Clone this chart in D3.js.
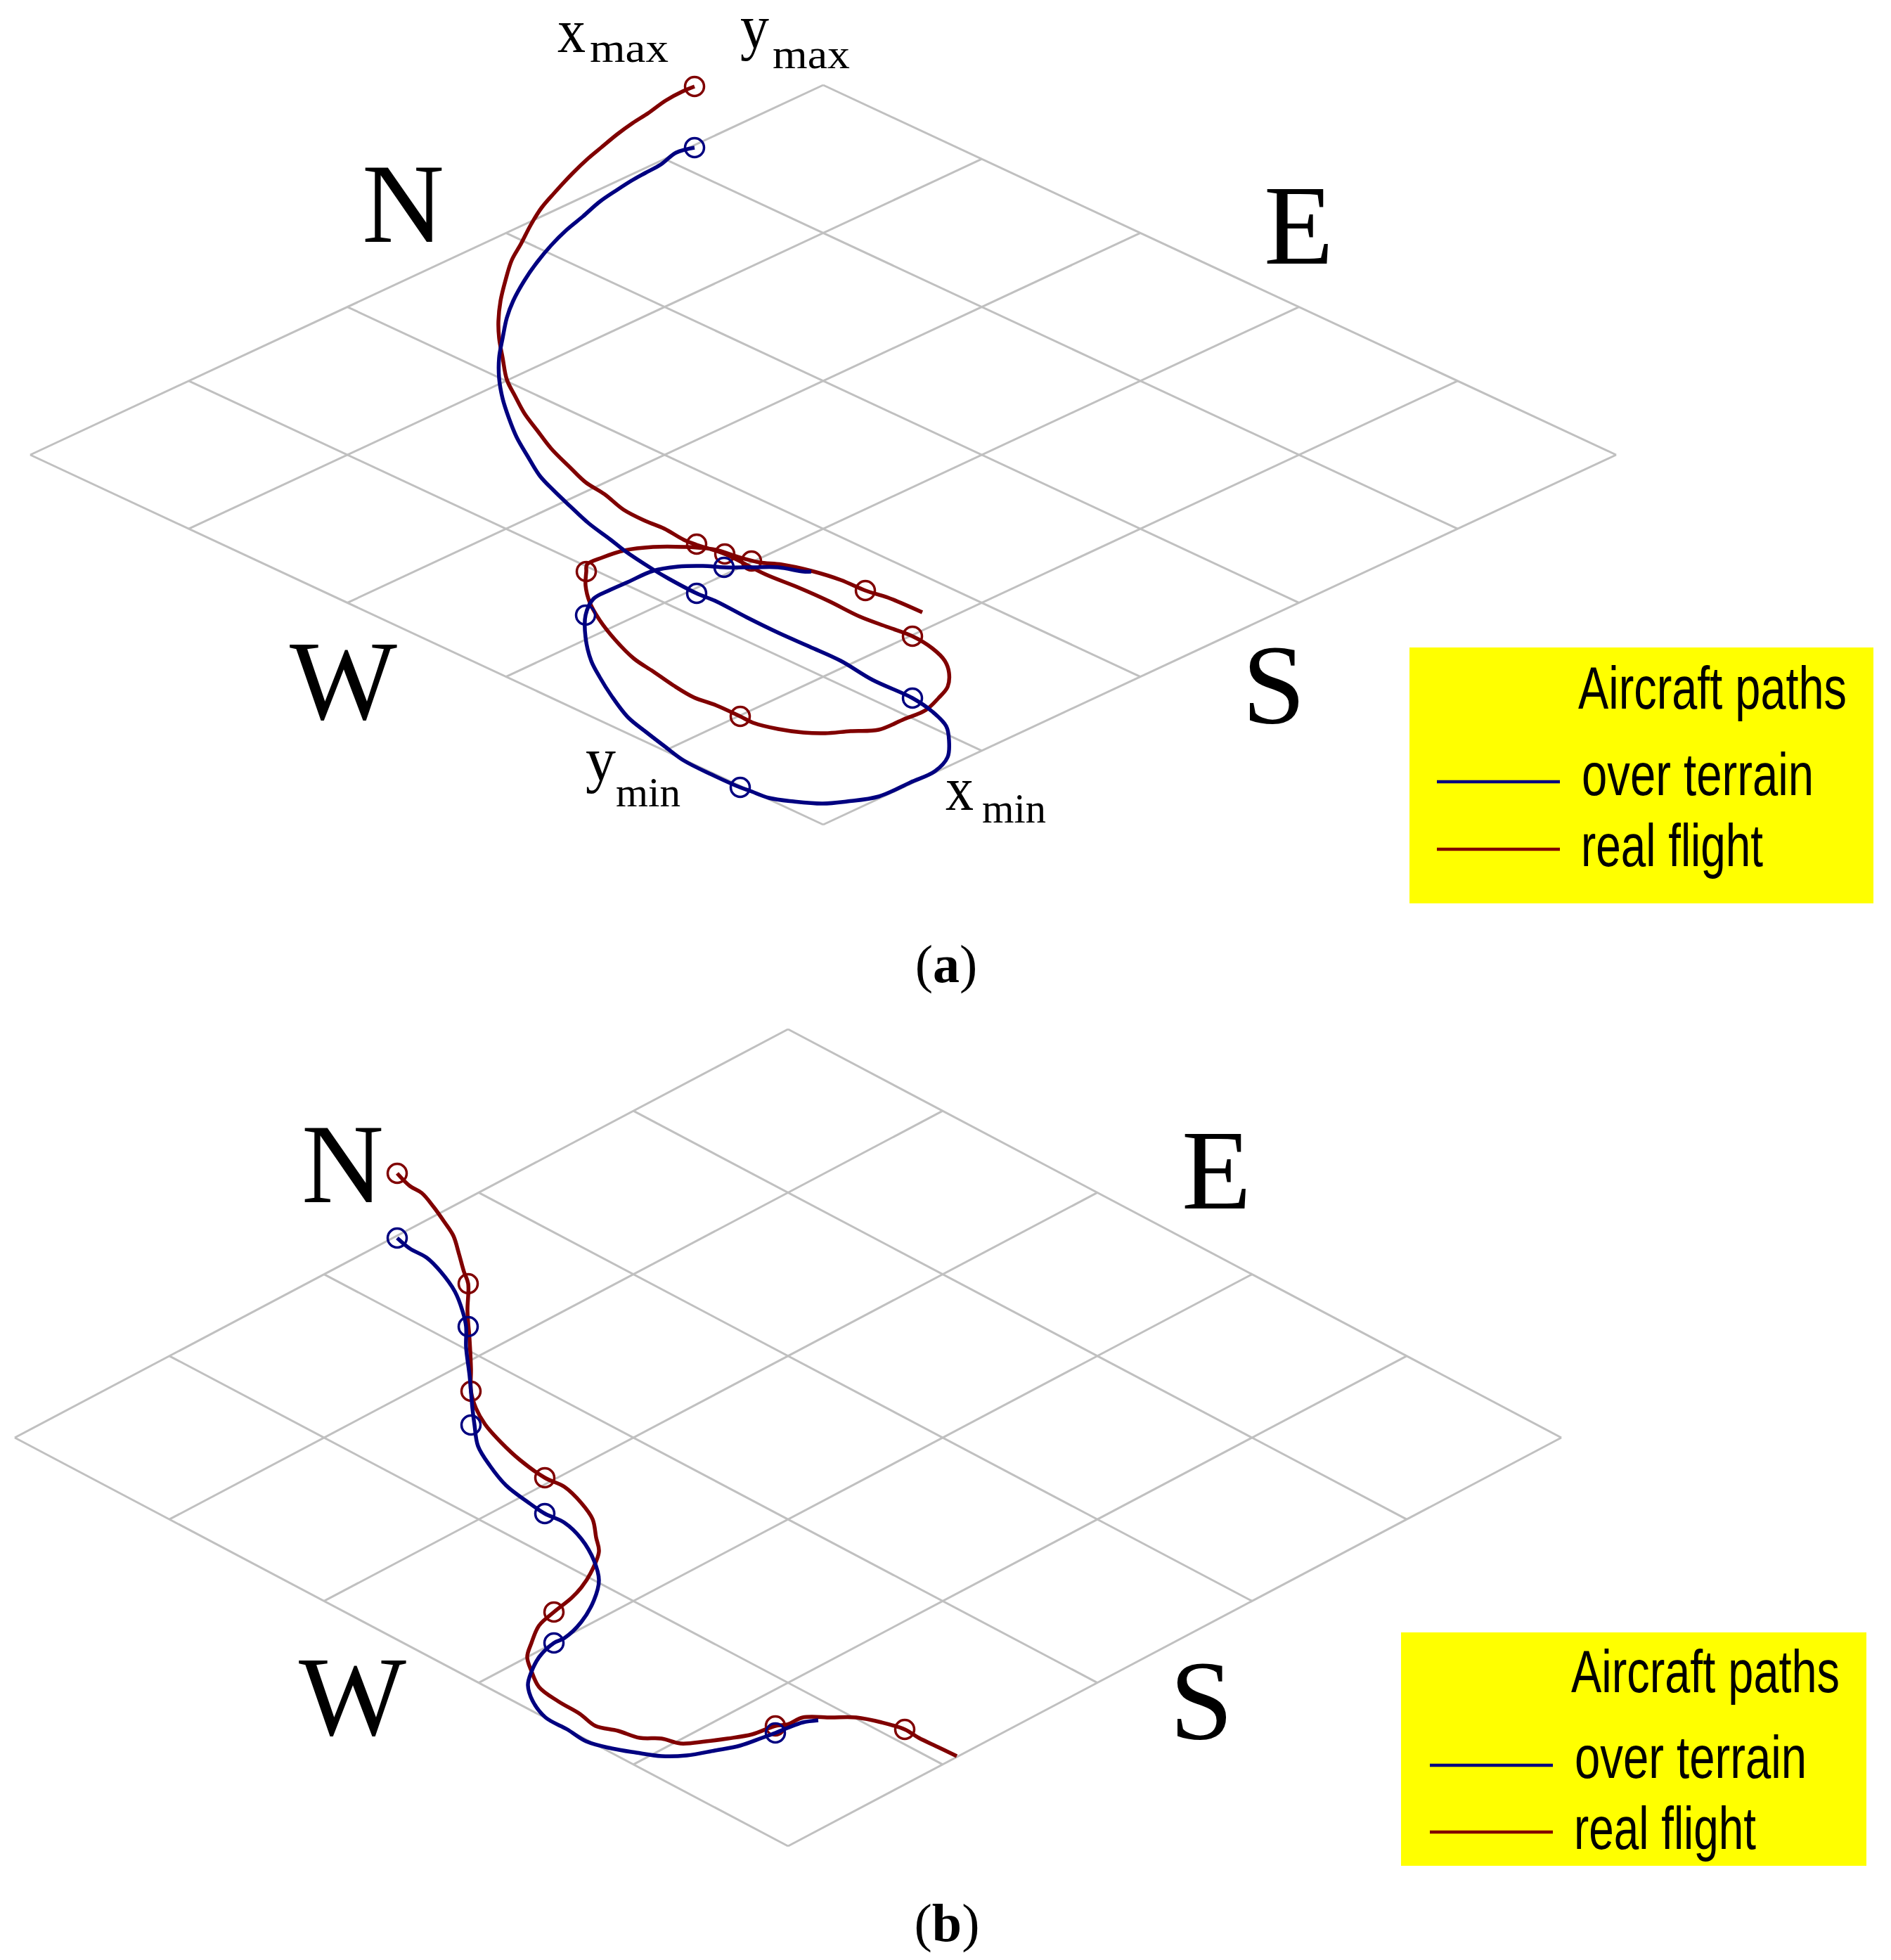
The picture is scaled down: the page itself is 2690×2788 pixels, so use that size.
<!DOCTYPE html>
<html><head><meta charset="utf-8">
<style>html,body{margin:0;padding:0;background:#fff}svg{display:block}</style>
<script src="https://cdn.jsdelivr.net/npm/d3@7/dist/d3.min.js"></script>
</head><body><div id="chart"></div>
<script>
// Flight paths: [east-west offset, north-south offset] from the grid centre.
const redA=[[-183,524],[-200,517],[-224,504],[-249,486],[-271,472],[-293,456],[-316,437],[-334,422],[-356,401],[-383,372],[-401,351],[-416,327],[-430,300],[-443,277],[-452,248],[-459,219],[-462,190],[-461,166],[-456,138],[-450,107],[-438,83],[-425,59],[-407,35],[-387,9],[-360,-18],[-338,-39],[-311,-56],[-284,-78],[-253,-94],[-226,-105],[-198,-121],[-180,-128],[-140,-141],[-82,-170],[-37,-188],[8,-208],[52,-230],[92,-245],[127,-258],[155,-275],[173,-293],[179,-310],[177,-330],[164,-346],[146,-363],[115,-376],[79,-391],[39,-393],[3,-396],[-28,-395],[-64,-390],[-100,-381],[-118,-372],[-153,-356],[-184,-345],[-213,-328],[-242,-308],[-269,-290],[-296,-263],[-318,-235],[-332,-210],[-338,-186],[-337,-166],[-336,-156],[-314,-146],[-283,-136],[-242,-131],[-198,-131],[-153,-135],[-122,-145],[-91,-153],[-59,-156],[-17,-165],[25,-178],[60,-193],[92,-203],[141,-224]];
const blueA=[[-183,437],[-209,430],[-231,413],[-253,401],[-271,391],[-293,377],[-318,360],[-342,339],[-365,320],[-387,298],[-407,274],[-425,248],[-441,219],[-450,195],[-456,166],[-461,138],[-461,109],[-456,80],[-447,52],[-436,25],[-421,-1],[-403,-30],[-383,-51],[-360,-73],[-334,-97],[-302,-121],[-283,-136],[-242,-163],[-220,-176],[-180,-197],[-153,-208],[-109,-231],[-64,-253],[-19,-273],[25,-293],[70,-320],[127,-346],[155,-365],[175,-386],[179,-406],[177,-430],[159,-450],[124,-466],[79,-486],[34,-493],[-1,-496],[-42,-493],[-77,-488],[-104,-478],[-118,-473],[-158,-455],[-198,-435],[-225,-415],[-251,-395],[-278,-373],[-301,-343],[-318,-316],[-330,-293],[-338,-260],[-338,-228],[-327,-205],[-305,-193],[-278,-181],[-242,-165],[-207,-159],[-171,-158],[-141,-160],[-100,-160],[-64,-160],[-28,-166],[-17,-166]];
const redAMarks=[[-183,524],[-180,-127],[-140,-141],[-102,-151],[127,-258],[-118,-372],[-337,-166],[60,-193]];
const blueAMarks=[[-183,437],[-180,-197],[-141,-160],[127,-346],[-118,-473],[-338,-228]];
const redB=[[-556,376],[-538,358],[-521,348],[-504,328],[-489,307],[-476,287],[-468,261],[-461,236],[-455,219],[-456,180],[-453,139],[-451,98],[-451,66],[-444,42],[-431,19],[-408,-7],[-381,-32],[-346,-57],[-318,-70],[-294,-93],[-278,-116],[-273,-142],[-269,-162],[-281,-193],[-294,-213],[-308,-228],[-333,-248],[-354,-267],[-365,-292],[-371,-312],[-365,-332],[-354,-355],[-327,-375],[-296,-393],[-274,-410],[-242,-417],[-211,-427],[-180,-428],[-153,-435],[-117,-432],[-86,-428],[-51,-422],[-18,-410],[-1,-408],[21,-398],[61,-398],[97,-398],[133,-405],[166,-415],[186,-427],[213,-440],[240,-453]];
const blueB=[[-556,284],[-538,269],[-514,256],[-494,236],[-474,208],[-463,180],[-458,158],[-458,129],[-453,88],[-449,42],[-446,18],[-441,-12],[-424,-40],[-401,-68],[-371,-91],[-346,-108],[-318,-121],[-294,-144],[-276,-175],[-269,-203],[-276,-231],[-294,-262],[-318,-285],[-333,-292],[-354,-312],[-365,-333],[-370,-352],[-363,-375],[-345,-398],[-314,-415],[-287,-432],[-251,-442],[-216,-448],[-180,-453],[-144,-452],[-104,-445],[-68,-438],[-37,-427],[-18,-420],[-1,-413],[21,-405],[43,-402]];
const redBMarks=[[-556,376],[-455,219],[-451,66],[-346,-57],[-333,-248],[-18,-410],[166,-415]];
const blueBMarks=[[-556,284],[-455,158],[-451,18],[-346,-108],[-333,-292],[-18,-420]];

const legendTitle="Aircraft paths";
const legendLabels=["over terrain","real flight"];
const seriesColors=["#000080","#800000"];
const gridCells=5;

const W=2690,H=2788;
const svg=d3.select("#chart").append("svg").attr("width",W).attr("height",H).attr("viewBox",[0,0,W,H]);
svg.append("rect").attr("width",W).attr("height",H).attr("fill","#fff");

const panels=[
 {cx:1171,cy:647,hw:1128,hh:526,red:redA,blue:blueA,rm:redAMarks,bm:blueAMarks,
  compass:[["N",515,344],["E",1798,375],["W",412,1023],["S",1767,1028]],
  legend:{x:2005,y:921,w:660,h:364,lx0:2044,lx1:2219,ly:[1112,1208],tx:2245,tw:382,tb:1008,
          lt:[[2250,330,1131],[2249,259,1232]]}},
 {cx:1121,cy:2045,hw:1100,hh:581,red:redB,blue:blueB,rm:redBMarks,bm:blueBMarks,
  compass:[["N",429,1710],["E",1681,1719],["W",425,2468],["S",1664,2473]],
  legend:{x:1993,y:2322,w:662,h:332,lx0:2034,lx1:2209,ly:[2511,2606],tx:2235,tw:382,tb:2407,
          lt:[[2240,330,2529],[2239,259,2630]]}}
];

const serif='"Liberation Serif","Times New Roman",serif', sans='"Liberation Sans",Arial,sans-serif';

panels.forEach(p=>{
  const g=svg.append("g");
  const x=d3.scaleLinear().domain([-p.hw,p.hw]).range([p.cx-p.hw,p.cx+p.hw]);
  const y=d3.scaleLinear().domain([-p.hh,p.hh]).range([p.cy+p.hh,p.cy-p.hh]);
  // grid cell coordinates -> ground plane offsets
  const s=d3.scaleLinear().domain([0,gridCells]).range([0,1]);
  const node=(u,v)=>[x((s(u)-s(v))*p.hw), y((1-s(u)-s(v))*p.hh)];
  const ticks=d3.range(gridCells+1);
  const gridG=g.append("g").attr("stroke","#c0c0c0").attr("stroke-width",3).attr("fill","none");
  ticks.forEach(t=>{
    gridG.append("path").attr("d",d3.line()([node(t,0),node(t,gridCells)]));
    gridG.append("path").attr("d",d3.line()([node(0,t),node(gridCells,t)]));
  });
  const line=d3.line().x(d=>x(d[0])).y(d=>y(d[1])).curve(d3.curveCatmullRom.alpha(0.5));
  [[p.red,p.rm,seriesColors[1]],[p.blue,p.bm,seriesColors[0]]].forEach(([path,marks,c])=>{
    g.append("path").attr("d",line(path)).attr("fill","none").attr("stroke",c).attr("stroke-width",5.5);
    g.append("g").selectAll("circle").data(marks).join("circle")
      .attr("cx",d=>x(d[0])).attr("cy",d=>y(d[1])).attr("r",13.5)
      .attr("fill","none").attr("stroke",c).attr("stroke-width",3.5);
  });
  g.selectAll("text.c").data(p.compass).join("text").attr("class","c")
    .attr("x",d=>d[1]).attr("y",d=>d[2]).text(d=>d[0])
    .attr("font-family",serif).attr("font-size",162).attr("fill","#000");
  const L=p.legend;
  g.append("rect").attr("x",L.x).attr("y",L.y).attr("width",L.w).attr("height",L.h).attr("fill","#ffff00");
  legendLabels.forEach((t,i)=>{
    g.append("line").attr("x1",L.lx0).attr("x2",L.lx1).attr("y1",L.ly[i]).attr("y2",L.ly[i])
      .attr("stroke",seriesColors[i]).attr("stroke-width",4.5);
    g.append("text").attr("x",L.lt[i][0]).attr("y",L.lt[i][2]).text(t)
      .attr("font-family",sans).attr("font-size",86).attr("textLength",L.lt[i][1])
      .attr("lengthAdjust","spacingAndGlyphs");
  });
  g.append("text").attr("x",L.tx).attr("y",L.tb).text(legendTitle)
    .attr("font-family",sans).attr("font-size",86).attr("textLength",L.tw)
    .attr("lengthAdjust","spacingAndGlyphs");
});

// extreme labels of panel (a)
const extremeLabels=[
 {base:"x",sub:"max",bx:793,bw:40,by:74,sx:839,sw:112,sy:88},
 {base:"y",sub:"max",bx:1053,bw:41,by:68,sx:1099,sw:110,sy:97},
 {base:"y",sub:"min",bx:833,bw:43,by:1110,sx:876,sw:92,sy:1147},
 {base:"x",sub:"min",bx:1345,bw:40,by:1152,sx:1397,sw:91,sy:1170}
];
extremeLabels.forEach(d=>{
  svg.append("text").attr("x",d.bx).attr("y",d.by).text(d.base).attr("font-family",serif)
    .attr("font-size",88).attr("textLength",d.bw).attr("lengthAdjust","spacingAndGlyphs");
  svg.append("text").attr("x",d.sx).attr("y",d.sy).text(d.sub).attr("font-family",serif)
    .attr("font-size",60).attr("textLength",d.sw).attr("lengthAdjust","spacingAndGlyphs");
});

// captions
const captions=[["a",1346,1397],["b",1347,2761]];
captions.forEach(([t,cx,by])=>{
  const c=svg.append("text").attr("x",cx).attr("y",by).attr("text-anchor","middle")
    .attr("font-family",serif).attr("font-size",76);
  c.append("tspan").text("(");
  c.append("tspan").attr("font-weight","bold").text(t);
  c.append("tspan").text(")");
});
</script></body></html>
